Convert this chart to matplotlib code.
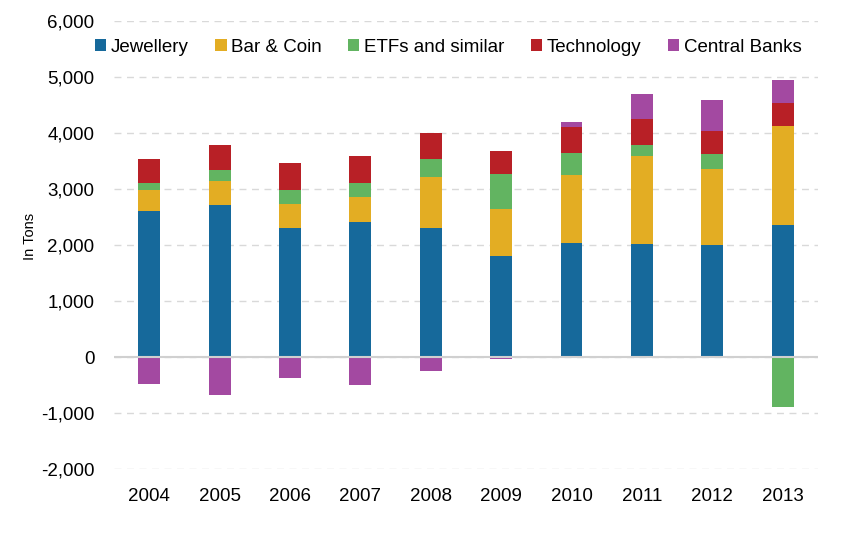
import numpy as np
import matplotlib
matplotlib.use('Agg')
import matplotlib.pyplot as plt
from matplotlib.patches import Patch
from matplotlib.ticker import FuncFormatter

plt.rcParams['font.family'] = ['Liberation Sans', 'DejaVu Sans']

years = ['2004', '2005', '2006', '2007', '2008', '2009', '2010', '2011', '2012', '2013']
jewellery = [2610, 2720, 2310, 2415, 2310, 1810, 2040, 2025, 2005, 2360]
bar_coin = [380, 430, 430, 445, 910, 840, 1215, 1570, 1355, 1770]
etfs = [125, 195, 250, 250, 320, 625, 395, 195, 270, -885]
technology = [425, 445, 480, 480, 465, 410, 465, 465, 410, 410]
central_banks = [-480, -675, -370, -495, -245, -30, 75, 445, 555, 410]

series = [
    ('Jewellery', jewellery, '#16699b'),
    ('Bar & Coin', bar_coin, '#e3ad23'),
    ('ETFs and similar', etfs, '#62b461'),
    ('Technology', technology, '#b82026'),
    ('Central Banks', central_banks, '#a349a1'),
]

fig = plt.figure(figsize=(8.41, 5.36), dpi=100)
ax = fig.add_axes([0.1356, 0.125, 0.837, 0.8358])

x = np.arange(len(years))
pos_bottom = np.zeros(len(years))
neg_bottom = np.zeros(len(years))
# positive parts stack upward, negative parts stack downward from zero
for name, vals, col in series:
    v = np.array(vals, dtype=float)
    bottom = np.where(v >= 0, pos_bottom, neg_bottom)
    ax.bar(x, v, width=0.31, bottom=bottom, color=col, zorder=3)
    pos_bottom += np.where(v >= 0, v, 0)
    neg_bottom += np.where(v < 0, v, 0)

ax.set_xlim(-0.5, 9.5)
ax.set_ylim(-2000, 6000)
ax.set_yticks(np.arange(-2000, 6001, 1000))
ax.yaxis.set_major_formatter(FuncFormatter(lambda v, p: f'{int(v):,}'))
ax.set_xticks(x)
ax.set_xticklabels(years)
ax.tick_params(axis='both', length=0, labelsize=13.5, colors='black')
ax.tick_params(axis='x', pad=14)
ax.tick_params(axis='y', pad=14)

ax.grid(axis='y', color='#d9d9d9', linestyle=(0, (5, 4)), linewidth=1, zorder=0)
ax.axhline(0, color='#d0d0d0', linewidth=1.5, zorder=4)
for s in ax.spines.values():
    s.set_visible(False)

ax.set_ylabel('In Tons', fontsize=10.5)
ax.yaxis.set_label_coords(-0.11, 0.52)

handles = [Patch(facecolor=col, label=name) for name, vals, col in series]
fig.legend(handles=handles, loc='center', bbox_to_anchor=(0.533, 0.912), ncol=5,
           frameon=False, fontsize=13.5, handlelength=0.6, handleheight=0.6,
           handletextpad=0.25, columnspacing=1.4)

fig.savefig('out.png', dpi=100)
